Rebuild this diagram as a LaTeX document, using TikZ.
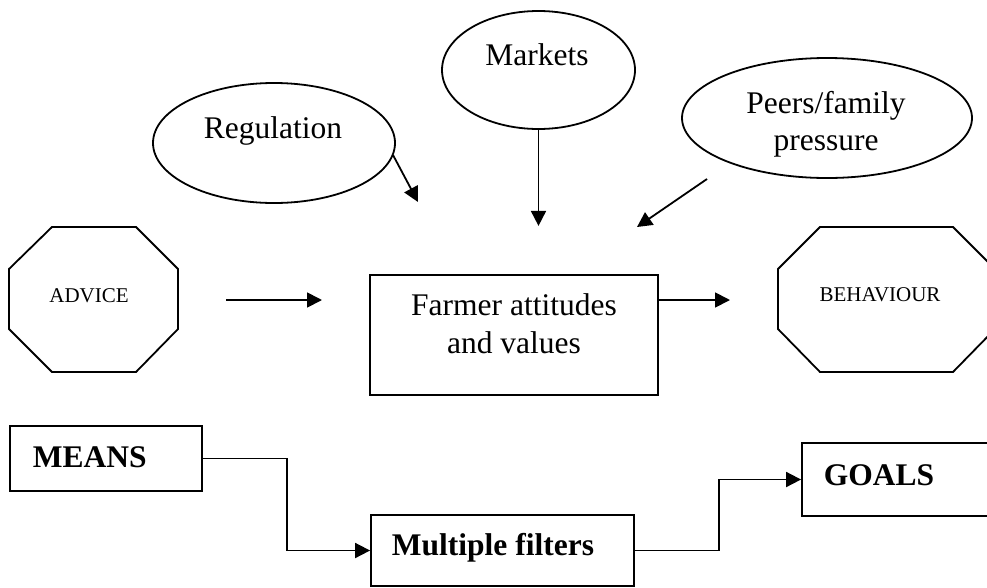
\documentclass[tikz,border=0pt]{standalone}
\usepackage{fontspec}
\setmainfont{Liberation Serif}
\usetikzlibrary{shapes.geometric,arrows.meta,calc}
\begin{document}
\begin{tikzpicture}[x=1pt,y=-1pt,
  line width=1.8pt,
  ell/.style={draw,ellipse,inner sep=0pt},
  box/.style={draw,rectangle,inner sep=0pt},
  big/.style={font=\fontsize{31.5}{37}\selectfont,inner sep=0pt},
  bigb/.style={font=\fontsize{31.5}{37}\selectfont\bfseries,inner sep=0pt},
  small/.style={font=\fontsize{21}{25}\selectfont,inner sep=0pt},
  arr/.style={-{Triangle[length=15pt,width=15pt]}}]
\useasboundingbox (0,0) rectangle (987,587);
\begin{scope}
\clip (0,0) rectangle (987,587);
% ellipses
\node[ell,minimum width=242pt,minimum height=120pt] (reg) at (274,143) {};
\node[big,anchor=base] (regt) at (273,138) {Regulation};
\node[ell,minimum width=193pt,minimum height=118pt] (mkt) at (538.5,70) {};
\node[big,anchor=base] (mktt) at (537,65) {Markets};
\node[ell,minimum width=290pt,minimum height=120pt] (peer) at (827,118) {};
\node[big,anchor=base] (peert1) at (826,113) {Peers/family};
\node[big,anchor=base] (peert2) at (826,150) {pressure};
% octagons
\draw (52,227) -- (136,227) -- (178,269) -- (178,329) -- (136,372) -- (52,372) -- (9,329) -- (9,269) -- cycle;
\node[small,anchor=base] (adv) at (89,302) {ADVICE};
\draw (820,227) -- (953,227) -- (995,269) -- (995,329) -- (953,372) -- (820,372) -- (778,329) -- (778,269) -- cycle;
\node[small,anchor=base] (beh) at (880,301) {BEHAVIOUR};
% central box
\node[box,minimum width=288pt,minimum height=120pt] (farm) at (514,335) {};
\node[big,anchor=base] (farmt1) at (514,315) {Farmer attitudes};
\node[big,anchor=base] (farmt2) at (514,353) {and values};
% bottom boxes
\node[box,minimum width=192pt,minimum height=65pt] (means) at (106,458.5) {};
\node[bigb,anchor=base west] (meanst) at (32,467) {MEANS};
\node[box,minimum width=263pt,minimum height=71pt] (filt) at (502.5,550.5) {};
\node[bigb,anchor=base west] (filtt) at (391,555) {Multiple filters};
\node[box,minimum width=198pt,minimum height=73pt] (goals) at (901,479.5) {};
\node[bigb,anchor=base west] (goalst) at (823,485) {GOALS};
% free arrow ends
\coordinate (a1) at (226,300);
\coordinate (a2) at (322,300);
\coordinate (b2) at (730,300);
\coordinate (r1) at (393,155);
\coordinate (r2) at (418,202);
\coordinate (p1) at (707,179);
\coordinate (p2) at (637,227);
% connectors
\draw[arr] (a1) -- (a2);
\draw[arr] (farm.east |- b2) -- (b2);
\draw[arr] (r1) -- (r2);
\draw[arr] (mkt.south) -- ++(0,96);
\draw[arr] (p1) -- (p2);
\draw[arr] (means.east) -- ++(84,0) |- (filt.west);
\draw[arr] (filt.east) -- ++(84,0) |- (goals.west);
\end{scope}
\end{tikzpicture}
\end{document}
